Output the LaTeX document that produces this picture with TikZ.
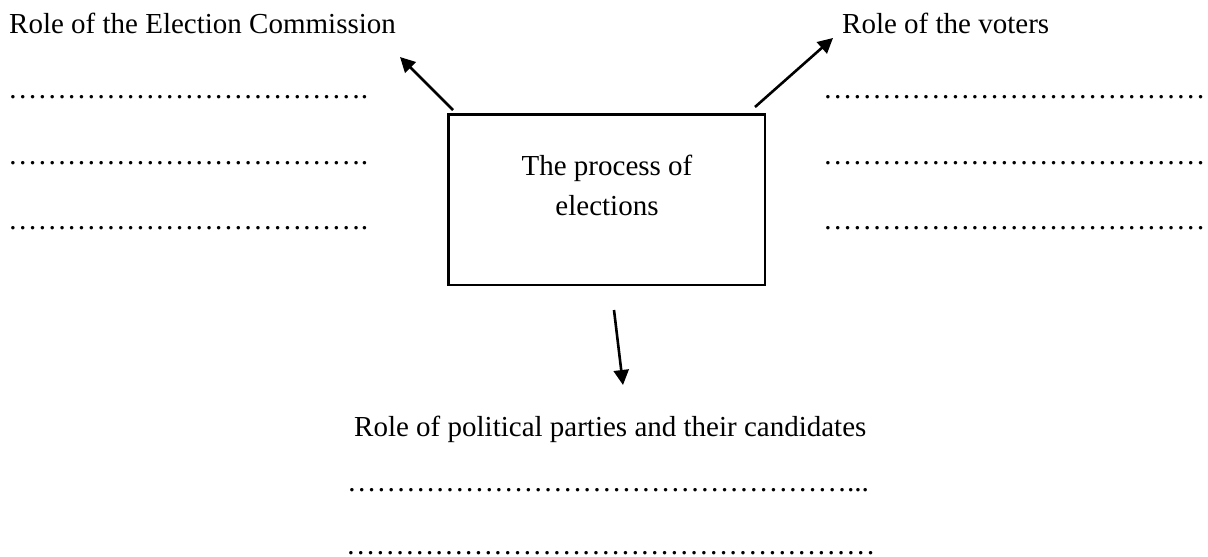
\documentclass[tikz,border=0pt]{standalone}
\usepackage{fontspec}
\setmainfont{Liberation Serif}
\usetikzlibrary{arrows.meta,positioning}
\newcommand{\dotrun}[1]{\foreach \k in {1,...,#1}{…}}
\tikzset{
    title/.style =   {anchor=base west,
                    inner sep=0pt,
                    text=black,
                    font=\fontsize{29}{40}\selectfont},
    dotrow/.style =  {anchor=base west,
                    inner sep=0pt,
                    text depth=0pt,
                    text=black,
                    font=\fontsize{29.4}{40}\selectfont},
    box/.style =     {rectangle,
                    draw=black,
                    line width=2.5pt,
                    minimum width=316.5pt,
                    minimum height=170.5pt,
                    inner sep=0pt},
    boxtext/.style = {anchor=north,
                    align=center,
                    inner sep=0pt,
                    text=black,
                    font=\fontsize{29}{40}\selectfont},
    link/.style =    {line width=2.6pt,
                    -{Triangle[length=15pt,width=15pt]}},
    draw=black}

\begin{document}
\begin{tikzpicture}[x=1pt,y=-1pt]
                \useasboundingbox (0,0) rectangle (1208,557);
                \node[title]   (ec)       at (9,33)      {Role of the Election Commission};
                \node[title]   (voters)   at (842,33)    {Role of the voters};
                \node[box]     (proc)     at (606.5,199.5) {};
                \node[boxtext] (proctext) at (607,155)   {The process of\\elections};
                \node[title]   (parties)  at (354,436)   {Role of political parties and their candidates};

                \node[dotrow]  (ecA)      at (8,98.5)    {\dotrun{12}.};
                \node[dotrow]  (ecB)      at (8,164.5)   {\dotrun{12}.};
                \node[dotrow]  (ecC)      at (8,229.5)   {\dotrun{12}.};
                \node[dotrow]  (voA)      at (823,98.5)  {\dotrun{13}};
                \node[dotrow]  (voB)      at (823,164.5) {\dotrun{13}};
                \node[dotrow]  (voC)      at (823,229.5) {\dotrun{13}};
                \node[dotrow]  (paA)      at (347,491.5) {\dotrun{17}...};
                \node[dotrow]  (paB)      at (346,554)   {\dotrun{18}};

                \coordinate (ecfoot) at (453,110);
                \coordinate (ectip)  at (400,57);
                \coordinate (vofoot) at (755,107);
                \coordinate (votip)  at (833,38);
                \coordinate (pafoot) at (614,310);
                \coordinate (patip)  at (623,385);

                \path [link]    (ecfoot) edge (ectip)
                                (vofoot) edge (votip)
                                (pafoot) edge (patip);
\end{tikzpicture}
\end{document}
